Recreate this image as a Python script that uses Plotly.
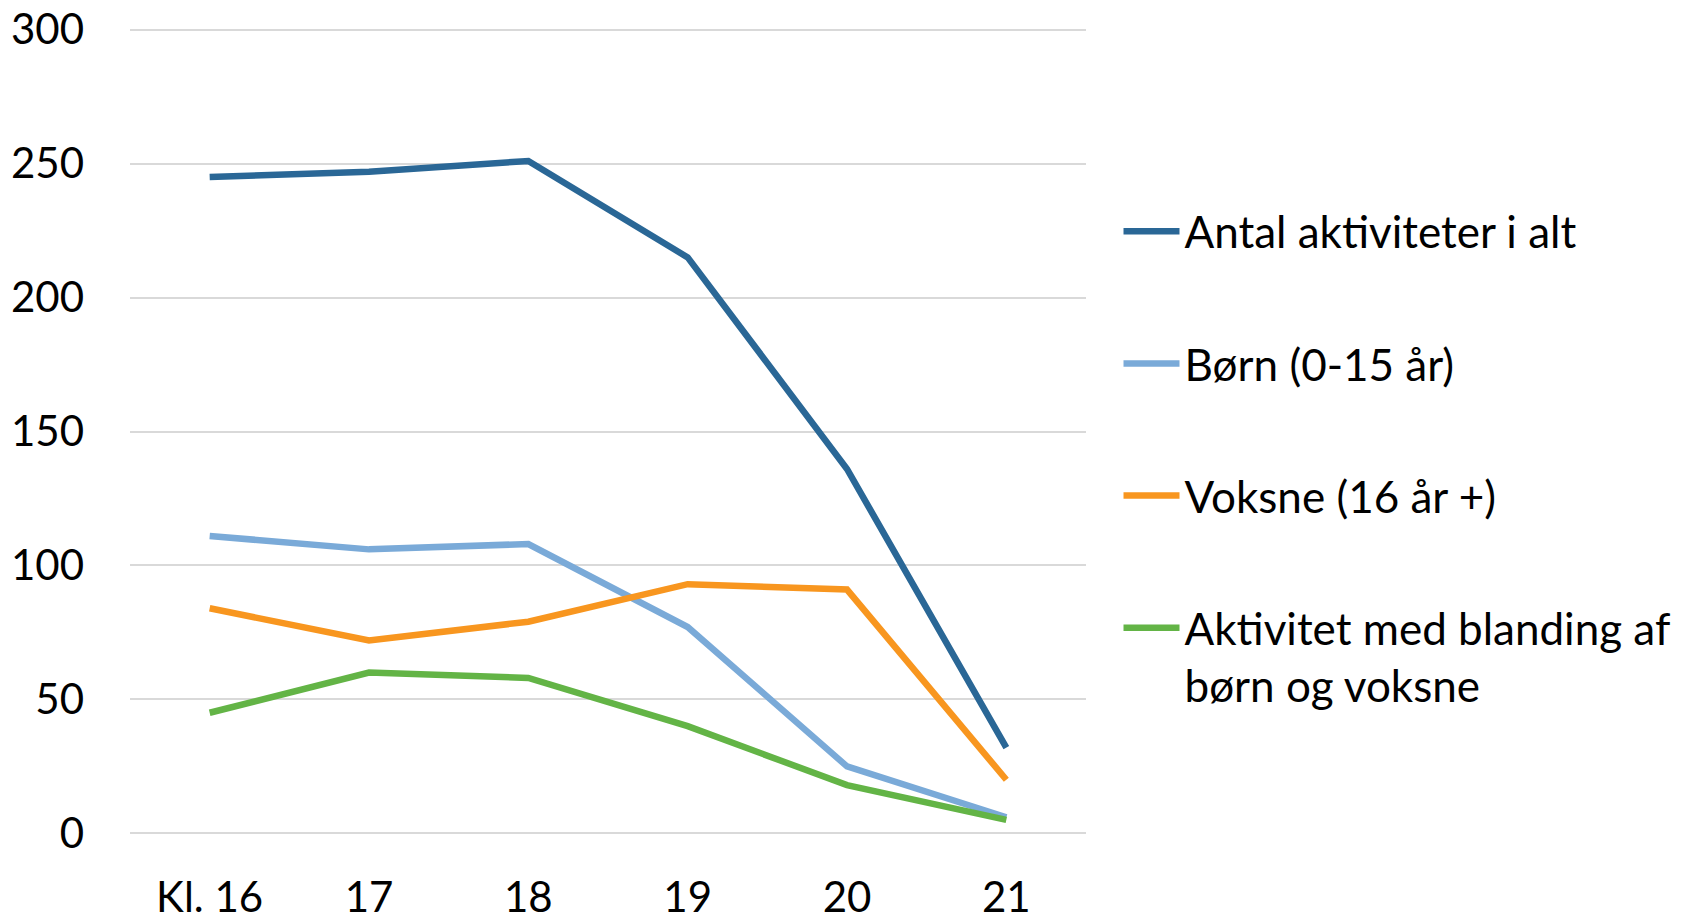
import plotly.graph_objects as go

categories = ["Kl. 16", "17", "18", "19", "20", "21"]
antal = [245, 247, 251, 215, 136, 32]
boern = [111, 106, 108, 77, 25, 6]
voksne = [84, 72, 79, 93, 91, 20]
blanding = [45, 60, 58, 40, 18, 5]

series_names = [
    "Antal aktiviteter i alt",
    "Børn (0-15 år)",
    "Voksne (16 år +)",
    "Aktivitet med blanding af<br>børn og voksne",
]
series_values = [antal, boern, voksne, blanding]
colors = ["#2a6796", "#7aaad8", "#f8961f", "#63b446"]

FONT = "Lato, 'Open Sans', sans-serif"

fig = go.Figure()
for i, (name, vals, col) in enumerate(zip(series_names, series_values, colors)):
    fig.add_trace(go.Scatter(
        x=categories, y=vals, name=name, mode="lines",
        line=dict(color=col, width=6.5),
        legendgroup=f"g{i}",
    ))

fig.update_layout(
    width=1683, height=913,
    margin=dict(l=122, r=605, t=19, b=85, autoexpand=False),
    plot_bgcolor="white", paper_bgcolor="white",
    font=dict(family=FONT, size=42, color="#000000"),
    showlegend=True,
    legend=dict(
        x=1.034, xanchor="left", y=0.791, yanchor="top",
        font=dict(family=FONT, size=44, color="#000000"),
        tracegroupgap=72, itemwidth=56, valign="top",
        bgcolor="rgba(0,0,0,0)",
    ),
)
fig.update_xaxes(
    type="category", range=[-0.5, 5.5], showgrid=False, showline=False,
    zeroline=False, ticks="", ticklabelstandoff=33, automargin=False,
    ticklabeloverflow="allow",
)
fig.update_yaxes(
    range=[-1, 301], tickvals=[0, 50, 100, 150, 200, 250, 300],
    showgrid=True, gridcolor="#d9d9d9", gridwidth=1.5,
    zeroline=False, showline=False, ticks="", ticklabelstandoff=45,
    automargin=False, ticklabeloverflow="allow",
)

fig.write_html("out.html")
